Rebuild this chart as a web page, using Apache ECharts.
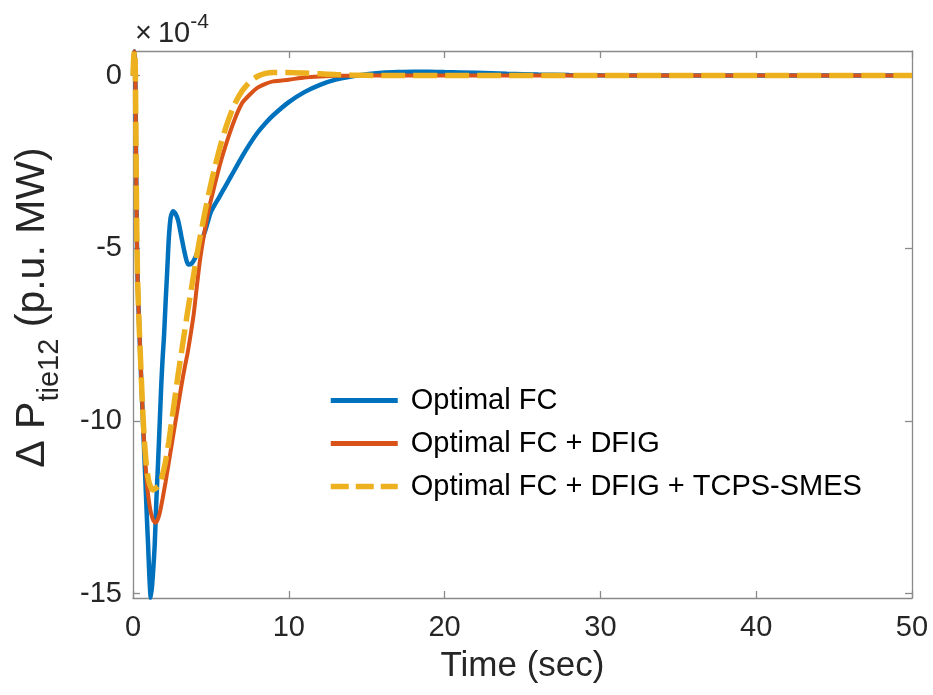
<!DOCTYPE html>
<html>
<head>
<meta charset="utf-8">
<script src="https://cdn.jsdelivr.net/npm/echarts@6/dist/echarts.min.js"></script>
<style>
html,body{margin:0;padding:0;background:#fff;}
#chart{width:933px;height:695px;}
</style>
</head>
<body>
<div id="chart"></div>
<script>
// ---- data (time in sec, value in units of 1e-4 p.u. MW) ----
var seriesNames = ['Optimal FC', 'Optimal FC + DFIG', 'Optimal FC + DFIG + TCPS-SMES'];
var xTicks = [0, 10, 20, 30, 40, 50];
var yTicks = [-15, -10, -5, 0];

var timeFC = [0, 0.05, 0.1, 0.15, 0.2, 0.25, 0.3, 0.4, 0.5, 0.6, 0.7, 0.8, 0.9, 0.97, 1.05, 1.14, 1.22, 1.3, 1.39, 1.5, 1.61, 1.72, 1.82, 1.9, 1.99, 2.1, 2.2, 2.3, 2.42, 2.57, 2.7, 2.9, 3.1, 3.3, 3.54, 3.75, 3.97, 4.2, 4.4, 4.7, 5.0, 5.5, 6.0, 6.5, 7.0, 7.5, 8, 8.5, 9, 10, 11, 12, 13, 14, 15, 16, 17, 18, 19, 20, 22, 24, 26, 28, 30, 35, 40, 45, 50];
var valFC  = [0, 0.55, 0.7, 0.2, -2.5, -4.8, -6.0, -7.3, -8.5, -9.6, -10.7, -11.8, -12.9, -13.6, -14.5, -15.12, -14.8, -14.3, -13.63, -12.3, -11.2, -10.0, -8.9, -8.2, -7.55, -6.5, -5.62, -4.7, -4.1, -3.93, -3.98, -4.2, -4.65, -5.1, -5.47, -5.45, -5.3, -5.05, -4.8, -4.4, -3.95, -3.55, -3.15, -2.75, -2.35, -1.98, -1.65, -1.38, -1.15, -0.77, -0.48, -0.27, -0.12, -0.03, 0.04, 0.08, 0.1, 0.11, 0.11, 0.1, 0.08, 0.05, 0.03, 0.015, 0.005, 0, 0, 0, 0];

var timeDFIG = [0, 0.05, 0.1, 0.15, 0.2, 0.25, 0.3, 0.4, 0.5, 0.6, 0.7, 0.8, 0.9, 1.0, 1.1, 1.2, 1.3, 1.44, 1.55, 1.7, 1.9, 2.1, 2.3, 2.5, 2.7, 2.9, 3.1, 3.3, 3.5, 3.7, 3.9, 4.1, 4.3, 4.6, 4.9, 5.2, 5.6, 6.0, 6.5, 7.0, 7.5, 8, 8.5, 9, 10, 11, 12, 13, 15, 20, 30, 40, 50];
var valDFIG  = [0, 0.55, 0.7, 0.2, -2.5, -4.8, -6.0, -7.3, -8.4, -9.5, -10.5, -11.25, -11.85, -12.25, -12.55, -12.75, -12.88, -12.95, -12.9, -12.7, -12.25, -11.75, -11.2, -10.65, -10.1, -9.55, -9.0, -8.5, -8.05, -7.5, -6.9, -6.1, -5.35, -4.5, -3.8, -3.25, -2.55, -1.95, -1.3, -0.8, -0.55, -0.35, -0.24, -0.17, -0.12, -0.06, -0.03, -0.01, 0, 0, 0, 0, 0];

var timeSMES = [0, 0.05, 0.1, 0.15, 0.2, 0.25, 0.3, 0.4, 0.5, 0.6, 0.7, 0.8, 0.9, 1.0, 1.1, 1.2, 1.29, 1.4, 1.55, 1.72, 1.9, 2.08, 2.3, 2.5, 2.7, 2.9, 3.1, 3.3, 3.5, 3.7, 3.9, 4.1, 4.3, 4.6, 4.9, 5.2, 5.6, 6.0, 6.5, 7.0, 7.5, 8, 8.5, 9, 10, 11, 12, 13, 14, 16, 20, 30, 40, 50];
var valSMES  = [0, 0.55, 0.72, 0.2, -2.5, -4.8, -6.0, -7.3, -8.4, -9.45, -10.35, -11.0, -11.45, -11.72, -11.88, -11.97, -12.0, -11.97, -11.92, -11.85, -11.55, -11.2, -10.6, -9.95, -9.3, -8.65, -8.05, -7.45, -6.85, -6.3, -5.75, -5.2, -4.7, -4.0, -3.35, -2.75, -2.05, -1.45, -0.85, -0.45, -0.18, -0.02, 0.06, 0.09, 0.09, 0.07, 0.05, 0.03, 0.015, 0, 0, 0, 0, 0];

function pairs(t, v) { return t.map(function (x, i) { return [x, v[i]]; }); }

var colors = ['#0072BD', '#D95319', '#EDB120'];
var textColor = '#262626';
var axisColor = '#8a8a8a';
var font = '"Liberation Sans", Arial, Helvetica, sans-serif';

var chart = echarts.init(document.getElementById('chart'), null, {renderer: 'canvas'});

var axisCommon = {
  type: 'value',
  splitLine: {show: false},
  axisLine: {show: true, onZero: false, lineStyle: {color: axisColor, width: 1.3}},
  axisTick: {show: true, inside: true, length: 7, lineStyle: {color: axisColor, width: 1.3}}
};

var option = {
  backgroundColor: '#ffffff',
  animation: false,
  textStyle: {fontFamily: font},
  title: {
    text: '{x|×}{n|10}{e|-4}',
    left: 135, top: 12, padding: 0,
    textStyle: {
      fontWeight: 'normal',
      rich: {
        x: {fontSize: 29, fontWeight: 'normal', color: textColor, fontFamily: font, lineHeight: 36, verticalAlign: 'bottom', padding: [0, 6, 0, 0]},
        n: {fontSize: 29, fontWeight: 'normal', color: textColor, fontFamily: font, lineHeight: 36, verticalAlign: 'bottom'},
        e: {fontSize: 21, fontWeight: 'normal', color: textColor, fontFamily: font, lineHeight: 21, verticalAlign: 'top'}
      }
    }
  },
  grid: {left: 133, right: 21, top: 51, bottom: 97, containLabel: false},
  legend: {
    orient: 'vertical',
    left: 323, top: 381,
    itemWidth: 67, itemHeight: 14, itemGap: 14,
    textStyle: {fontSize: 29, color: '#000', fontFamily: font, padding: [0, 0, 0, 8]},
    data: [
      {name: seriesNames[0], itemStyle: {opacity: 0}, lineStyle: {color: colors[0], width: 5, type: 'solid'}},
      {name: seriesNames[1], itemStyle: {opacity: 0}, lineStyle: {color: colors[1], width: 5, type: 'solid'}},
      {name: seriesNames[2], itemStyle: {opacity: 0}, lineStyle: {color: colors[2], width: 5.5, type: [18, 7]}}
    ]
  },
  xAxis: [
    Object.assign({}, axisCommon, {
      position: 'bottom', min: 0, max: 50, interval: 10,
      axisLabel: {show: true, fontSize: 29, color: textColor, margin: 15, fontFamily: font,
                  customValues: xTicks},
      axisTick: Object.assign({}, axisCommon.axisTick, {customValues: xTicks}),
      name: 'Time (sec)', nameLocation: 'middle', nameGap: 51,
      nameTextStyle: {fontSize: 35, color: textColor, fontFamily: font}
    }),
    Object.assign({}, axisCommon, {
      position: 'top', min: 0, max: 50, interval: 10,
      axisLabel: {show: false},
      axisTick: Object.assign({}, axisCommon.axisTick, {customValues: xTicks})
    })
  ],
  yAxis: [
    Object.assign({}, axisCommon, {
      position: 'left', min: -15.13, max: 0.71,
      axisLabel: {show: true, fontSize: 29, color: textColor, margin: 11, fontFamily: font,
                  customValues: yTicks},
      axisTick: Object.assign({}, axisCommon.axisTick, {customValues: yTicks}),
      name: '{a|Δ P}{b|tie12}{a| (p.u. MW)}',
      nameLocation: 'middle', nameGap: 69, nameRotate: 90,
      nameTextStyle: {
        padding: [0, 0, 0, 34],
        rich: {
          a: {fontSize: 41, color: textColor, fontFamily: font, lineHeight: 41, verticalAlign: 'top'},
          b: {fontSize: 29, color: textColor, fontFamily: font, lineHeight: 52, verticalAlign: 'bottom'}
        }
      }
    }),
    Object.assign({}, axisCommon, {
      position: 'right', min: -15.13, max: 0.71,
      axisLabel: {show: false},
      axisTick: Object.assign({}, axisCommon.axisTick, {customValues: yTicks})
    })
  ],
  series: [
    {
      name: seriesNames[0], type: 'line', xAxisIndex: 0, yAxisIndex: 0,
      data: pairs(timeFC, valFC), showSymbol: false, symbol: 'none', smooth: 0.2,
      color: colors[0],
      lineStyle: {color: colors[0], width: 4.5}
    },
    {
      name: seriesNames[1], type: 'line', xAxisIndex: 0, yAxisIndex: 0,
      data: pairs(timeDFIG, valDFIG), showSymbol: false, symbol: 'none', smooth: 0.2,
      color: colors[1],
      lineStyle: {color: colors[1], width: 4}
    },
    {
      name: seriesNames[2], type: 'line', xAxisIndex: 0, yAxisIndex: 0,
      data: pairs(timeSMES, valSMES), showSymbol: false, symbol: 'none', smooth: 0.2,
      color: colors[2],
      lineStyle: {color: colors[2], width: 5.5, type: [24, 8]}
    }
  ]
};
chart.setOption(option);
</script>
</body>
</html>
